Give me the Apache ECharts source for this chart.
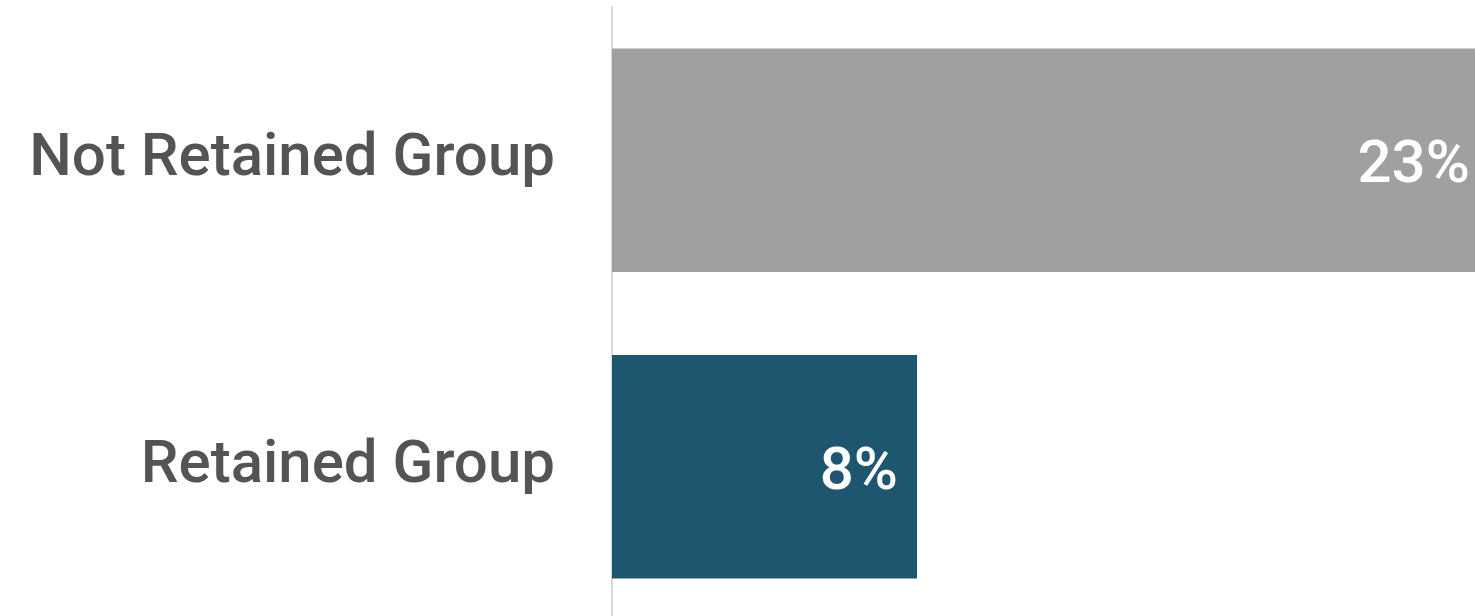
<!DOCTYPE html>
<html>
<head>
<meta charset="utf-8">
<script src="https://cdn.jsdelivr.net/npm/echarts@6/dist/echarts.min.js"></script>
<style>
  html, body { margin: 0; padding: 0; background: #ffffff; }
  #chart { width: 1475px; height: 616px; }
</style>
</head>
<body>
<div id="chart"></div>
<script>
// Groups, listed bottom to top as the category axis draws them
const groups = ['Retained Group', 'Not Retained Group'];
const shares = [8, 23];
const barColors = ['#1f566f', '#a0a0a0'];

const chart = echarts.init(document.getElementById('chart'), null, { renderer: 'canvas' });

const fontFamily = 'Roboto, "Noto Sans", sans-serif';

chart.setOption({
  animation: false,
  // plot area runs past the right and bottom edges of the canvas
  grid: {
    left: 612, top: 7, width: 915, height: 613,
    containLabel: false,
    outerBoundsMode: 'none'
  },
  xAxis: {
    type: 'value',
    min: 0,
    max: 24,
    show: false
  },
  yAxis: {
    type: 'category',
    data: groups,
    axisLine: { show: true, lineStyle: { color: '#d9d9d9', width: 2 } },
    axisTick: { show: false },
    axisLabel: {
      color: '#545454',
      fontSize: 60,
      fontWeight: 500,
      fontFamily: fontFamily,
      margin: 57,
      padding: [12, 0, 0, 0]
    }
  },
  series: [{
    type: 'bar',
    clip: false,
    barWidth: '73%',
    data: shares.map((v, i) => ({ value: v, itemStyle: { color: barColors[i] } })),
    label: {
      show: true,
      position: 'insideRight',
      distance: 19,
      offset: [0, 7],
      color: '#ffffff',
      fontSize: 60,
      fontWeight: 500,
      fontFamily: fontFamily,
      formatter: p => p.value + '%'
    }
  }]
});
</script>
</body>
</html>
